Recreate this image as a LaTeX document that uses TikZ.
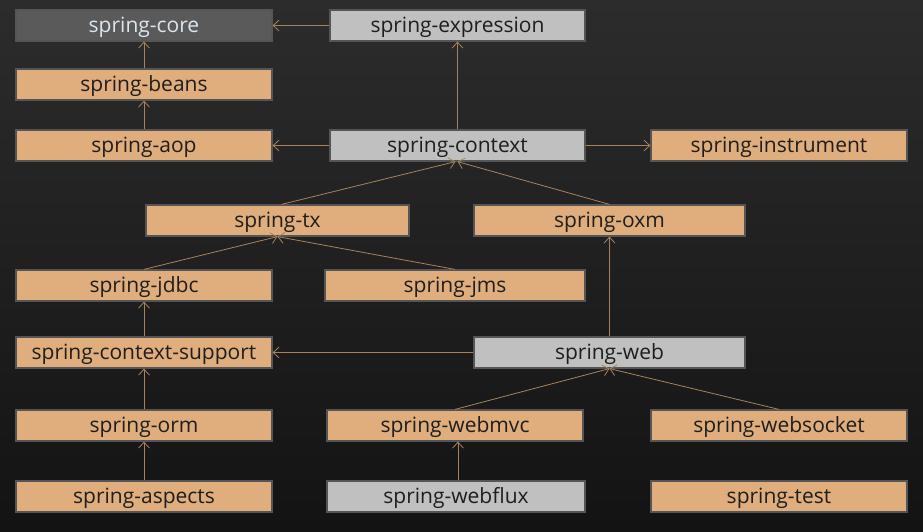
\documentclass[tikz,border=0pt]{standalone}
\usepackage{fontspec}
\setmainfont{Open Sans}
\usetikzlibrary{arrows.meta}
\definecolor{bgtop}{HTML}{2C2C2C}
\definecolor{bgbot}{HTML}{131313}
\definecolor{orangefill}{HTML}{DFAE7C}
\definecolor{grayfill}{HTML}{C0C0C0}
\definecolor{darkfill}{HTML}{5A5A5A}
\definecolor{boxedge}{HTML}{555555}
\definecolor{arrowcol}{HTML}{A8825C}
\definecolor{darktext}{HTML}{1E1E1E}
\definecolor{lighttext}{HTML}{DCE6EE}
\begin{document}
\begin{tikzpicture}[x=1pt,y=-1pt,
  base/.style={draw=boxedge, line width=1.2pt, minimum height=31pt, inner sep=0pt,
    text height=17.5pt, text depth=4pt,
    font=\fontsize{21}{22}\selectfont, text=darktext},
  obox/.style={base, fill=orangefill},
  gbox/.style={base, fill=grayfill, text=darktext},
  dbox/.style={base, fill=darkfill, text=lighttext},
  dep/.style={draw=arrowcol, line width=0.8pt, -{Straight Barb[length=6pt,width=11pt]}}]
\shade[top color=bgtop, bottom color=bgbot] (0,0) rectangle (923,532);
\useasboundingbox (0,0) rectangle (923,532);
% row 1
\node[dbox, minimum width=256pt] (core) at (144,25.5) {spring-core};
\node[gbox, minimum width=255pt] (expr) at (457.5,25.5) {spring-expression};
% row 2
\node[obox, minimum width=256pt] (beans) at (144,84.5) {spring-beans};
% row 3
\node[obox, minimum width=256pt] (aop) at (144,145.5) {spring-aop};
\node[gbox, minimum width=255pt] (ctx) at (457.5,145.5) {spring-context};
\node[obox, minimum width=256pt] (instr) at (779,145.5) {spring-instrument};
% row 4
\node[obox, minimum width=263pt] (tx) at (277.5,220.5) {spring-tx};
\node[obox, minimum width=271pt] (oxm) at (609.5,220.5) {spring-oxm};
% row 5
\node[obox, minimum width=256pt] (jdbc) at (144,285.5) {spring-jdbc};
\node[obox, minimum width=260pt] (jms) at (455,285.5) {spring-jms};
% row 6
\node[obox, minimum width=256pt] (csup) at (144,352.5) {spring-context-support};
\node[gbox, minimum width=271pt] (web) at (609.5,352.5) {spring-web};
% row 7
\node[obox, minimum width=256pt] (orm) at (144,425.5) {spring-orm};
\node[obox, minimum width=256pt] (mvc) at (455,425.5) {spring-webmvc};
\node[obox, minimum width=256pt] (wsock) at (779,425.5) {spring-websocket};
% row 8
\node[obox, minimum width=256pt] (asp) at (144,496.5) {spring-aspects};
\node[gbox, minimum width=258pt] (flux) at (456,496.5) {spring-webflux};
\node[obox, minimum width=256pt] (test) at (779,496.5) {spring-test};
% connectors
\draw[dep] (expr.west) -- (core.east);
\draw[dep] (beans.north) -- (core.south);
\draw[dep] (aop.north) -- (beans.south);
\draw[dep] (ctx.north) -- (expr.south);
\draw[dep] (ctx.west) -- (aop.east);
\draw[dep] (ctx.east) -- (instr.west);
\draw[dep] ([xshift=4pt]tx.north) -- ([xshift=-2pt]ctx.south);
\draw[dep] (oxm.north) -- (ctx.south);
\draw[dep] (jdbc.north) -- (tx.south);
\draw[dep] (jms.north) -- (tx.south);
\draw[dep] (csup.north) -- (jdbc.south);
\draw[dep] (web.north) -- (oxm.south);
\draw[dep] (web.west) -- (csup.east);
\draw[dep] (mvc.north) -- (web.south);
\draw[dep] (wsock.north) -- (web.south);
\draw[dep] (orm.north) -- (csup.south);
\draw[dep] (asp.north) -- (orm.south);
\draw[dep] ([xshift=2pt]flux.north) -- ([xshift=3pt]mvc.south);
\end{tikzpicture}
\end{document}
